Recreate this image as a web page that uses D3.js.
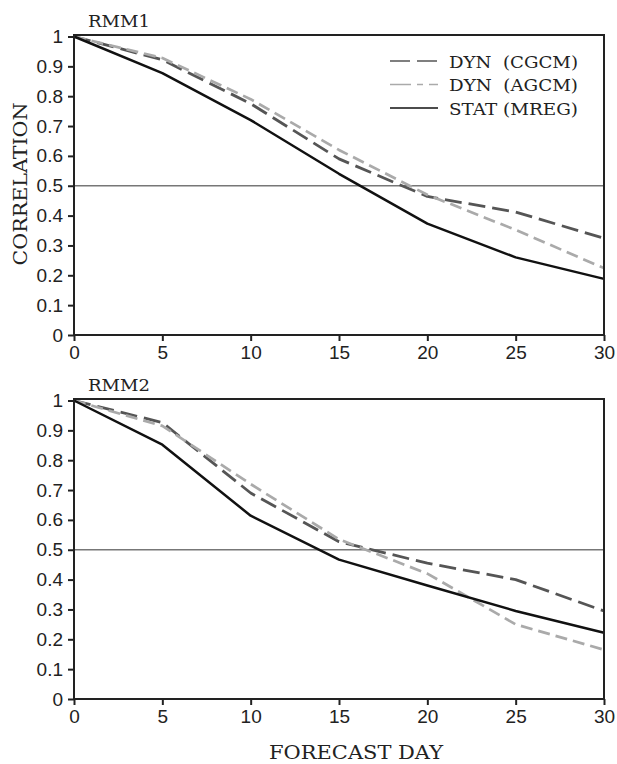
<!DOCTYPE html>
<html>
<head>
<meta charset="utf-8">
<script src="https://cdn.jsdelivr.net/npm/d3@7"></script>
<style>
  html, body { margin: 0; padding: 0; background: #fff; }
  svg { display: block; }
  .lbl { font-family: "DejaVu Serif", "Liberation Serif", serif; fill: #222; }
  .tick text { font-family: "Liberation Sans", Arial, sans-serif; fill: #222; }
</style>
</head>
<body>
<svg id="chart" width="617" height="764"></svg>
<script>
// Forecast lead days
const days = [0, 5, 10, 15, 20, 25, 30];

// RMM1 correlation skill
const rmm1Cgcm = [1.0, 0.922, 0.775, 0.59, 0.464, 0.412, 0.324];
const rmm1Agcm = [1.0, 0.928, 0.79, 0.62, 0.47, 0.352, 0.224];
const rmm1Stat = [1.0, 0.877, 0.72, 0.54, 0.373, 0.26, 0.188];

// RMM2 correlation skill
const rmm2Cgcm = [1.0, 0.926, 0.69, 0.527, 0.455, 0.40, 0.295];
const rmm2Agcm = [1.0, 0.915, 0.72, 0.535, 0.42, 0.25, 0.165];
const rmm2Stat = [1.0, 0.852, 0.614, 0.467, 0.38, 0.295, 0.222];

const xTicks = [0, 5, 10, 15, 20, 25, 30];
const yTicks = [0, 0.1, 0.2, 0.3, 0.4, 0.5, 0.6, 0.7, 0.8, 0.9, 1];
const seriesNames = ["DYN  (CGCM)", "DYN  (AGCM)", "STAT (MREG)"];
const referenceLevel = 0.5;

const styles = [
  { color: "#555", width: 2.8, dash: "17,7", key: "20,7" },
  { color: "#aaa", width: 2.7, dash: "12,6", key: "21,6,6,6" },
  { color: "#111", width: 2.5, dash: null, key: null }
];

const panels = [
  { title: "RMM1", top: 35, series: [rmm1Cgcm, rmm1Agcm, rmm1Stat], legend: true },
  { title: "RMM2", top: 399, series: [rmm2Cgcm, rmm2Agcm, rmm2Stat], legend: false }
];

const svg = d3.select("#chart");
const left = 74, right = 604, plotH = 300;

const x = d3.scaleLinear().domain([0, 30]).range([left, right]);

panels.forEach(p => {
  const y = d3.scaleLinear().domain([0, 1.005]).range([p.top + plotH, p.top]);
  const g = svg.append("g");

  // 0.5 reference line
  g.append("line")
    .attr("x1", x(0)).attr("x2", x(30))
    .attr("y1", y(referenceLevel)).attr("y2", y(referenceLevel))
    .attr("stroke", "#777").attr("stroke-width", 1.5);

  // series lines
  const line = d3.line().x((d, i) => x(days[i])).y(d => y(d));
  p.series.forEach((vals, k) => {
    g.append("path")
      .datum(vals)
      .attr("d", line)
      .attr("fill", "none")
      .attr("stroke", styles[k].color)
      .attr("stroke-width", styles[k].width)
      .attr("stroke-dasharray", styles[k].dash)
      .attr("stroke-linejoin", "round");
  });

  // frame
  g.append("rect")
    .attr("x", left).attr("y", p.top)
    .attr("width", right - left).attr("height", plotH)
    .attr("fill", "none").attr("stroke", "#222").attr("stroke-width", 2);

  // axes
  const yAxis = d3.axisLeft(y).tickValues(yTicks).tickSize(6).tickPadding(5)
    .tickFormat(d => d === 0 || d === 1 ? d3.format("d")(d) : d3.format(".1f")(d));
  const ya = g.append("g").attr("transform", `translate(${left},0)`).call(yAxis);
  const xAxis = d3.axisBottom(x).tickValues(xTicks).tickSize(6).tickPadding(5)
    .tickFormat(d3.format("d"));
  const xa = g.append("g").attr("transform", `translate(0,${p.top + plotH})`).call(xAxis);
  [ya, xa].forEach(a => {
    a.select(".domain").remove();
    a.selectAll(".tick line").attr("stroke", "#222").attr("stroke-width", 2);
    a.selectAll(".tick text").attr("font-size", 19);
  });

  // panel title
  g.append("text").attr("class", "lbl")
    .attr("x", 88).attr("y", p.top - 8)
    .attr("font-size", 17)
    .attr("textLength", 62).attr("lengthAdjust", "spacingAndGlyphs")
    .text(p.title);

  // legend
  if (p.legend) {
    const lx1 = 390, lx2 = 438, ly0 = p.top + 26, dy = 23.5;
    seriesNames.forEach((name, k) => {
      const yy = ly0 + k * dy;
      g.append("line")
        .attr("x1", lx1).attr("x2", lx2).attr("y1", yy).attr("y2", yy)
        .attr("stroke", styles[k].color).attr("stroke-width", 1.6)
        .attr("stroke-dasharray", styles[k].key);
      g.append("text").attr("class", "lbl")
        .attr("x", 449).attr("y", yy + 6.5)
        .attr("font-size", 17)
        .attr("textLength", 129).attr("lengthAdjust", "spacingAndGlyphs")
        .style("white-space", "pre")
        .text(name);
    });
  }
});

// axis titles
svg.append("text").attr("class", "lbl")
  .attr("x", (left + right) / 2 + 17).attr("y", 759)
  .attr("text-anchor", "middle").attr("font-size", 19)
  .attr("textLength", 174).attr("lengthAdjust", "spacingAndGlyphs")
  .text("FORECAST DAY");

svg.append("text").attr("class", "lbl")
  .attr("transform", "translate(27,184) rotate(-90)")
  .attr("text-anchor", "middle").attr("font-size", 19)
  .attr("textLength", 163).attr("lengthAdjust", "spacingAndGlyphs")
  .text("CORRELATION");
</script>
</body>
</html>
